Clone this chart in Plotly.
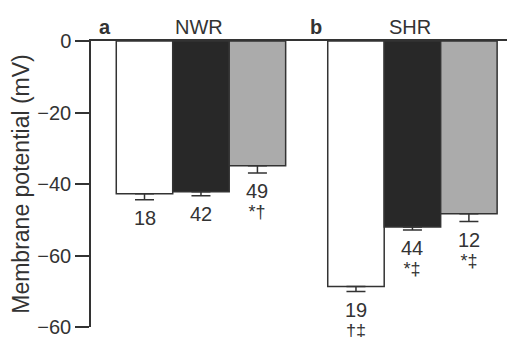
import plotly.graph_objects as go

groups = ["NWR", "SHR"]
panel_letters = ["a", "b"]
series_names = ["Control", "Treatment 1", "Treatment 2"]
values = {
    "Control": [-42.7, -68.7],
    "Treatment 1": [-42.2, -52.0],
    "Treatment 2": [-34.9, -48.3],
}
errors = {
    "Control": [1.7, 1.4],
    "Treatment 1": [1.1, 0.9],
    "Treatment 2": [2.0, 2.2],
}
counts = {
    "Control": ["18", "19"],
    "Treatment 1": ["42", "44"],
    "Treatment 2": ["49", "12"],
}
signif = {
    "Control": ["", "†‡"],
    "Treatment 1": ["", "*‡"],
    "Treatment 2": ["*†", "*‡"],
}
ytick_vals = [0, -20, -40, -60, -80]
ytick_text = ["0", "−20", "−40", "−60", "−60"]

fills = ["#ffffff", "#282828", "#ababab"]
ink = "#333333"
font = "Liberation Sans, Arial, Helvetica, sans-serif"
w = 0.267

fig = go.Figure()
annotations = []
for i, s in enumerate(series_names):
    xs = [g + (i - 1) * w for g in range(len(groups))]
    fig.add_trace(go.Bar(
        x=xs, y=values[s], width=w, name=s,
        marker=dict(color=fills[i], line=dict(color=ink, width=1.5)),
        error_y=dict(type="data", symmetric=False, array=[0, 0],
                     arrayminus=errors[s], color=ink, thickness=1.5, width=9.5),
        showlegend=False,
    ))
    for j in range(len(groups)):
        ybase = values[s][j] - errors[s][j]
        txt = "<span style='font-size:20px'>" + counts[s][j] + "</span>"
        if signif[s][j]:
            txt += "<br><span style='font-size:18px'>" + signif[s][j] + "</span>"
        annotations.append(dict(
            x=xs[j], y=ybase, xref="x", yref="y",
            text=txt, showarrow=False, yanchor="top", yshift=-5,
            font=dict(size=15.5, color=ink, family=font),
        ))

for j, g in enumerate(groups):
    annotations.append(dict(x=j - 0.01, y=1, xref="x", yref="paper", text=g,
                            showarrow=False, yanchor="bottom", yshift=1,
                            font=dict(size=20, color=ink, family=font)))
    annotations.append(dict(x=j - 0.454, y=1, xref="x", yref="paper",
                            text="<b>" + panel_letters[j] + "</b>",
                            showarrow=False, yanchor="bottom", yshift=1,
                            font=dict(size=20, color=ink, family=font)))

# page body has an 8px margin, so the figure is shifted by 8px right and down
fig.update_layout(
    width=507, height=345,
    margin=dict(l=83, r=0, t=33, b=26),
    plot_bgcolor="white", paper_bgcolor="white",
    barmode="overlay",
    annotations=annotations,
    font=dict(family=font, color=ink, size=20),
)
fig.update_xaxes(range=[-0.52, 1.485], showline=True, linecolor=ink, linewidth=1.5,
                 side="top", showticklabels=False, ticks="", showgrid=False,
                 zeroline=False, automargin=False)
fig.update_yaxes(range=[-80, 0], tickvals=ytick_vals, ticktext=ytick_text,
                 showline=True, linecolor=ink, linewidth=1.5, ticks="outside",
                 ticklen=14, tickwidth=1.5, tickcolor=ink, showgrid=False,
                 zeroline=False, tickfont=dict(size=20, color=ink, family=font),
                 automargin=False, ticklabeloverflow="allow",
                 title=dict(text="Membrane potential (mV)",
                            font=dict(size=23, color=ink, family=font), standoff=8))

fig.write_html("out.html")
